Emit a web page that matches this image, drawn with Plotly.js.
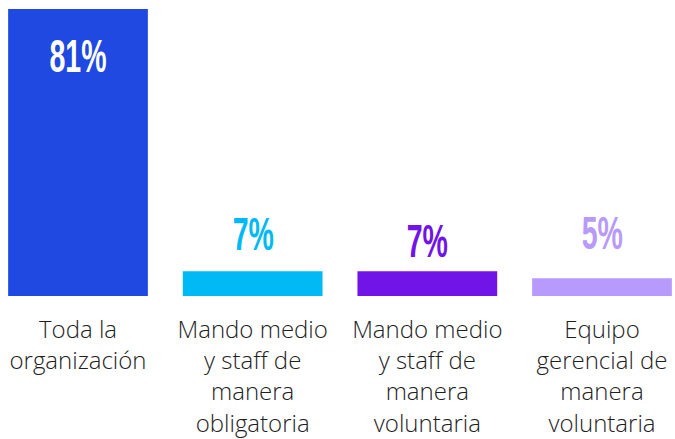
<!DOCTYPE html>
<html>
<head>
<meta charset="utf-8">
<script src="https://cdn.plot.ly/plotly-3.0.1.min.js"></script>
<style>
html,body{margin:0;padding:0;background:#fff;}
#chart{width:675px;height:439px;}
/* condensed look for the value labels */
#chart .annotation-text{transform-box:fill-box;transform-origin:center;transform:scaleX(0.62);}
</style>
</head>
<body>
<div id="chart"></div>
<script>
const categories = [
  "Toda la<br>organización",
  "Mando medio<br>y staff de<br>manera<br>obligatoria",
  "Mando medio<br>y staff de<br>manera<br>voluntaria",
  "Equipo<br>gerencial de<br>manera<br>voluntaria"
];
const values = [81, 7, 7, 5];
const valueLabels = ["81%", "7%", "7%", "5%"];
const barColors = ["#1f49e0", "#00b9f5", "#7014e8", "#b79afc"];
const labelColors = ["#ffffff", "#00b9f5", "#7014e8", "#b79afc"];
const labelShift = [-47, 37, 30, 45];

const trace = {
  type: "bar",
  x: [0, 1, 2, 3],
  y: values,
  marker: {color: barColors},
  hoverinfo: "none"
};

const annotations = values.map((v, i) => ({
  x: i, y: v, xref: "x", yref: "y",
  text: valueLabels[i],
  showarrow: false,
  yanchor: "middle",
  yshift: labelShift[i],
  font: {family: "Liberation Sans", size: 46, color: labelColors[i], weight: 700}
}));

const layout = {
  width: 675, height: 439,
  margin: {l: 0, r: 0, t: 0, b: 143},
  paper_bgcolor: "#ffffff",
  plot_bgcolor: "#ffffff",
  bargap: 0.2,
  showlegend: false,
  xaxis: {
    range: [-0.4466, 3.418],
    tickmode: "array",
    tickvals: [0, 1, 2, 3],
    ticktext: categories,
    showgrid: false, zeroline: false, showline: false, ticks: "",
    ticklabelstandoff: 17,
    tickfont: {family: "Open Sans", size: 24, color: "#1e1e1e", weight: 300},
    fixedrange: true
  },
  yaxis: {
    range: [0, 83.54],
    visible: false, showgrid: false, zeroline: false,
    fixedrange: true
  },
  annotations: annotations
};

Plotly.newPlot("chart", [trace], layout, {displayModeBar: false, staticPlot: true});
</script>
</body>
</html>
